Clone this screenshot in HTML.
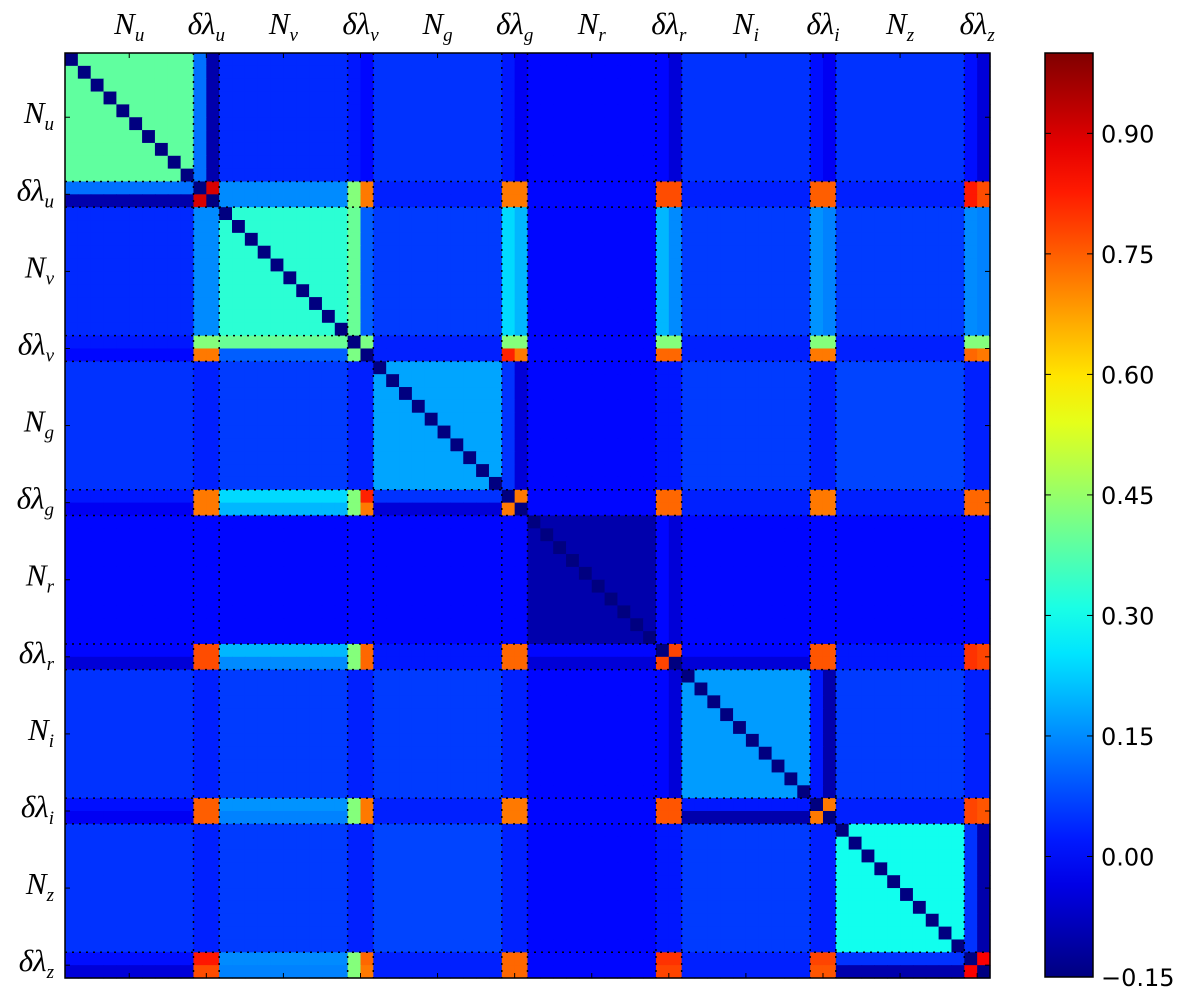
<!DOCTYPE html>
<html><head><meta charset="utf-8"><style>
body{margin:0;background:#fff;width:1200px;height:989px;overflow:hidden}
svg{display:block}
.lab{font-family:"Liberation Serif",serif;font-style:italic;font-size:31px;fill:#000}
.sub{font-size:19px}
.cb{font-family:"DejaVu Sans","Liberation Sans",sans-serif;font-size:24px;fill:#000}
</style></head><body>
<svg id="chart" width="1200" height="989"></svg>
<script>
// ---- data ----
const bands = ['u','v','g','r','i','z'];
const nPerBand = 10;
// N-N correlation within a band (off-diagonal)
const nnWithin = [0.39, 0.33, 0.18, -0.10, 0.17, 0.30];
// N-N correlation between bands (6x6)
const nnCross = [
 [0, 0.04, 0.05, 0.00, 0.05, 0.05],
 [0.04, 0, 0.06, 0.00, 0.06, 0.06],
 [0.05, 0.06, 0, 0.00, 0.06, 0.07],
 [0.00, 0.00, 0.00, 0, 0.00, 0.00],
 [0.05, 0.06, 0.06, 0.00, 0, 0.06],
 [0.05, 0.06, 0.07, 0.00, 0.06, 0]
];
// N (row band) vs delta-lambda (column band) components [c1,c2]
const nLd = [
 [[0.12,-0.10],[0.02,0.00],[0.02,-0.02],[0.00,-0.05],[0.01,-0.02],[0.01,-0.05]],
 [[0.15,0.15],[0.40,0.10],[0.24,0.20],[0.20,0.15],[0.16,0.14],[0.15,0.14]],
 [[0.03,0.03],[0.03,0.03],[0.05,-0.05],[0.02,0.02],[0.03,0.03],[0.03,0.03]],
 [[0.00,0.00],[0.00,0.00],[0.00,0.00],[0.00,-0.05],[0.00,0.00],[0.00,0.00]],
 [[0.03,0.03],[0.03,0.03],[0.03,0.03],[0.00,-0.05],[0.02,-0.10],[0.03,0.03]],
 [[0.03,0.03],[0.03,0.03],[0.03,0.03],[0.02,0.02],[0.03,0.03],[0.05,-0.10]]
];
// delta-lambda vs delta-lambda (12x12): u1,u2,v1,v2,g1,g2,r1,r2,i1,i2,z1,z2
const ldld = [
 [-0.15,0.90,0.43,0.72,0.72,0.72,0.77,0.77,0.75,0.75,0.83,0.77],
 [0.90,-0.15,0.43,0.72,0.72,0.72,0.77,0.77,0.75,0.75,0.83,0.77],
 [0.43,0.43,-0.15,0.42,0.43,0.43,0.43,0.43,0.43,0.43,0.43,0.43],
 [0.72,0.72,0.42,-0.15,0.82,0.72,0.74,0.74,0.72,0.72,0.74,0.72],
 [0.72,0.72,0.43,0.82,-0.15,0.72,0.74,0.74,0.72,0.72,0.74,0.74],
 [0.72,0.72,0.43,0.72,0.72,-0.15,0.74,0.74,0.72,0.72,0.74,0.74],
 [0.77,0.77,0.43,0.74,0.74,0.74,-0.15,0.78,0.76,0.76,0.80,0.78],
 [0.77,0.77,0.43,0.74,0.74,0.74,0.78,-0.15,0.76,0.76,0.80,0.78],
 [0.75,0.75,0.43,0.72,0.72,0.72,0.76,0.76,-0.15,0.72,0.78,0.76],
 [0.75,0.75,0.43,0.72,0.72,0.72,0.76,0.76,0.72,-0.15,0.78,0.76],
 [0.83,0.83,0.43,0.74,0.74,0.74,0.80,0.80,0.78,0.78,-0.15,0.86],
 [0.77,0.77,0.43,0.72,0.74,0.74,0.78,0.78,0.76,0.76,0.86,-0.15]
];
const diagValue = -0.15;
const cbTicks = [0.90, 0.75, 0.60, 0.45, 0.30, 0.15, 0.00, -0.15];
const vmin = -0.15, vmax = 1.0;

// ---- layout ----
const X0 = 65, Y0 = 53, SIZE = 925;
const per = nPerBand + 2, NT = bands.length * per;
const cell = SIZE / NT;
const svg = document.getElementById('chart');
const NS = 'http://www.w3.org/2000/svg';
function mk(t, a){const e=document.createElementNS(NS,t);for(const k in a)e.setAttribute(k,a[k]);return e;}
function clip(x){return Math.max(0,Math.min(1,x));}
function jet(v){
  const t=(v-vmin)/(vmax-vmin);
  const r=clip(1.5-Math.abs(4*t-3)), g=clip(1.5-Math.abs(4*t-2)), b=clip(1.5-Math.abs(4*t-1));
  return `rgb(${Math.round(r*255)},${Math.round(g*255)},${Math.round(b*255)})`;
}
function info(i){const b=Math.floor(i/per), k=i%per; return {b, isN:k<nPerBand, c:k-nPerBand};}
function value(i,j){
  if(i===j) return diagValue;
  const A=info(i), B=info(j);
  if(A.isN && B.isN) return A.b===B.b ? nnWithin[A.b] : nnCross[A.b][B.b];
  if(A.isN && !B.isN) return nLd[A.b][B.b][B.c];
  if(!A.isN && B.isN) return nLd[B.b][A.b][A.c];
  return ldld[A.b*2+A.c][B.b*2+B.c];
}
const xs = i => X0 + i*cell;
const ys = i => Y0 + i*cell;
const g = mk('g',{});


svg.appendChild(g);
for(let i=0;i<NT;i++)for(let j=0;j<NT;j++){
  const r=mk('rect',{x:xs(j).toFixed(2),y:ys(i).toFixed(2),width:(cell+0.6).toFixed(2),height:(cell+0.6).toFixed(2),fill:jet(value(i,j))});
  
  
  g.appendChild(r);
}
// dotted block boundaries
for(let b=0;b<bands.length;b++){
  for(const k of [nPerBand, per]){
    const idx=b*per+k; if(idx>=NT) continue;
    const p=X0+idx*cell;
    const l1=mk('line',{x1:p,y1:Y0,x2:p,y2:Y0+SIZE,stroke:'#000','stroke-width':1.5,'stroke-dasharray':'2,5'});
    
    
    svg.appendChild(l1);
    const q=Y0+idx*cell;
    const l2=mk('line',{x1:X0,y1:q,x2:X0+SIZE,y2:q,stroke:'#000','stroke-width':1.5,'stroke-dasharray':'2,5'});
    
    
    svg.appendChild(l2);
  }
}
const frame=mk('rect',{x:X0,y:Y0,width:SIZE,height:SIZE,fill:'none',stroke:'#000','stroke-width':1.5});


svg.appendChild(frame);
// labels
function label(x,y,anchor,main,sub,name){
  const t=mk('text',{x,y,'text-anchor':anchor,class:'lab'});
  t.innerHTML=`${main}<tspan class="sub" dy="7">${sub}</tspan>`;
  
  
  svg.appendChild(t);
}
bands.forEach((b,k)=>{
  const cN=X0+(k*per+nPerBand/2)*cell, cL=X0+(k*per+nPerBand+1)*cell;
  label(cN,34,'middle','N',b,'x-label-N-'+b);
  label(cL,34,'middle','δλ',b,'x-label-dl-'+b);
  const rN=Y0+(k*per+nPerBand/2)*cell, rL=Y0+(k*per+nPerBand+1)*cell;
  label(54,rN+6,'end','N',b,'y-label-N-'+b);
  label(54,rL+6,'end','δλ',b,'y-label-dl-'+b);
  [cN,cL].forEach(c=>{
    svg.appendChild(mk('line',{x1:c,y1:Y0,x2:c,y2:Y0+5,stroke:'#000'}));
    svg.appendChild(mk('line',{x1:c,y1:Y0+SIZE,x2:c,y2:Y0+SIZE-5,stroke:'#000'}));
  });
  [rN,rL].forEach(c=>{
    svg.appendChild(mk('line',{x1:X0,y1:c,x2:X0+5,y2:c,stroke:'#000'}));
    svg.appendChild(mk('line',{x1:X0+SIZE,y1:c,x2:X0+SIZE-5,y2:c,stroke:'#000'}));
  });
});
// colorbar
const CX=1045, CW=48, CY0=53, CH=924;
const defs=mk('defs',{});
const grad=mk('linearGradient',{id:'jetg',x1:0,y1:1,x2:0,y2:0});
for(let s=0;s<=20;s++){const v=vmin+(vmax-vmin)*s/20;grad.appendChild(mk('stop',{offset:(s/20),'stop-color':jet(v)}));}
defs.appendChild(grad);svg.appendChild(defs);
const cb=mk('rect',{x:CX,y:CY0,width:CW,height:CH,fill:'url(#jetg)',stroke:'#000','stroke-width':1.5});


svg.appendChild(cb);
const cby=v=>CY0+CH-(v-vmin)/(vmax-vmin)*CH;
cbTicks.forEach(v=>{
  const y=cby(v);
  svg.appendChild(mk('line',{x1:CX,y1:y,x2:CX+6,y2:y,stroke:'#000'}));
  svg.appendChild(mk('line',{x1:CX+CW,y1:y,x2:CX+CW-6,y2:y,stroke:'#000'}));
  const t=mk('text',{x:1101,y:y+9,class:'cb'});
  t.textContent=(v<0?'\u2212':'')+Math.abs(v).toFixed(2);
  
  
  svg.appendChild(t);
});
</script>
</body></html>
